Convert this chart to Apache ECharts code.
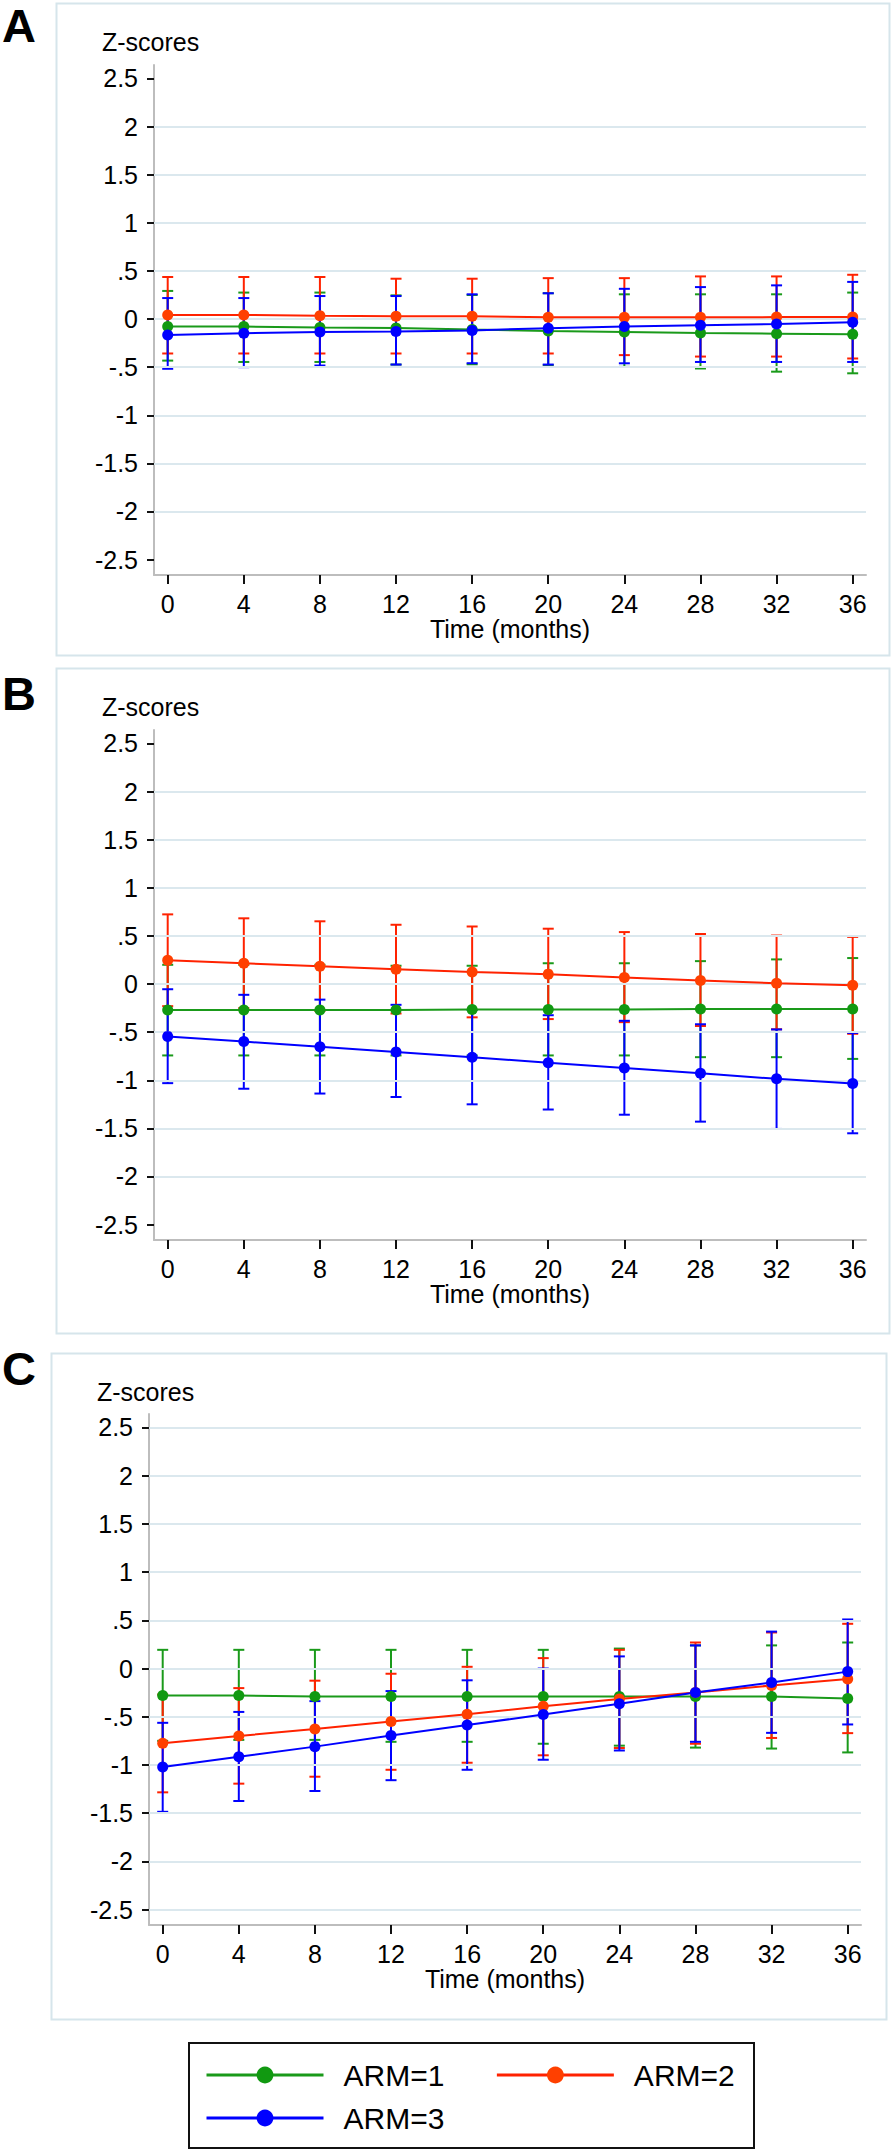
<!DOCTYPE html>
<html>
<head>
<meta charset="utf-8">
<script src="https://cdn.jsdelivr.net/npm/echarts@6/dist/echarts.min.js"></script>
<style>
html,body{margin:0;padding:0;background:#fff;}
#chart{width:894px;height:2153px;}
</style>
</head>
<body>
<div id="chart"></div>
<script>
// ---------------- data ----------------
const times = [0, 4, 8, 12, 16, 20, 24, 28, 32, 36];
const xTickLabels = [0, 4, 8, 12, 16, 20, 24, 28, 32, 36];
const yTickValues = [-2.5, -2, -1.5, -1, -0.5, 0, 0.5, 1, 1.5, 2, 2.5];
const armNames = ['ARM=1', 'ARM=2', 'ARM=3'];
const panelLetters = ['A', 'B', 'C'];
const yTitle = 'Z-scores';
const xTitle = 'Time (months)';

// Panel A
const A_arm1_mean = [-0.077, -0.078, -0.088, -0.092, -0.11, -0.125, -0.135, -0.145, -0.152, -0.159];
const A_arm1_hi   = [0.292, 0.275, 0.275, 0.246, 0.25, 0.268, 0.257, 0.257, 0.257, 0.275];
const A_arm1_lo   = [-0.432, -0.446, -0.446, -0.473, -0.47, -0.48, -0.497, -0.514, -0.547, -0.564];
const A_arm2_mean = [0.042, 0.042, 0.035, 0.03, 0.03, 0.018, 0.018, 0.018, 0.02, 0.02];
const A_arm2_hi   = [0.437, 0.437, 0.437, 0.419, 0.419, 0.425, 0.425, 0.443, 0.443, 0.46];
const A_arm2_lo   = [-0.358, -0.358, -0.358, -0.358, -0.358, -0.358, -0.375, -0.39, -0.39, -0.41];
const A_arm3_mean = [-0.165, -0.148, -0.134, -0.13, -0.118, -0.095, -0.078, -0.064, -0.051, -0.034];
const A_arm3_hi   = [0.218, 0.218, 0.239, 0.239, 0.257, 0.268, 0.314, 0.332, 0.35, 0.386];
const A_arm3_lo   = [-0.517, -0.5, -0.483, -0.473, -0.459, -0.473, -0.46, -0.446, -0.446, -0.446];

// Panel B
const B_arm1_mean = [-0.27, -0.27, -0.27, -0.27, -0.265, -0.265, -0.265, -0.26, -0.26, -0.26];
const B_arm1_hi   = [0.2, 0.2, 0.2, 0.19, 0.19, 0.216, 0.216, 0.238, 0.256, 0.27];
const B_arm1_lo   = [-0.742, -0.742, -0.742, -0.742, -0.742, -0.742, -0.742, -0.76, -0.76, -0.778];
const B_arm2_mean = [0.247, 0.216, 0.184, 0.153, 0.126, 0.103, 0.067, 0.036, 0.009, -0.013];
const B_arm2_hi   = [0.724, 0.683, 0.652, 0.616, 0.598, 0.575, 0.54, 0.52, 0.504, 0.49];
const B_arm2_lo   = [-0.23, -0.25, -0.28, -0.306, -0.346, -0.364, -0.396, -0.436, -0.47, -0.517];
const B_arm3_mean = [-0.544, -0.598, -0.652, -0.706, -0.76, -0.818, -0.872, -0.926, -0.985, -1.034];
const B_arm3_hi   = [-0.054, -0.112, -0.162, -0.216, -0.27, -0.324, -0.382, -0.418, -0.472, -0.508];
const B_arm3_lo   = [-1.03, -1.088, -1.138, -1.174, -1.25, -1.304, -1.358, -1.43, -1.506, -1.551];

// Panel C
const C_arm1_mean = [-0.28, -0.28, -0.29, -0.29, -0.29, -0.29, -0.29, -0.29, -0.29, -0.31];
const C_arm1_hi   = [0.194, 0.194, 0.194, 0.194, 0.194, 0.194, 0.207, 0.24, 0.24, 0.27];
const C_arm1_lo   = [-0.75, -0.74, -0.74, -0.76, -0.76, -0.78, -0.8, -0.82, -0.83, -0.87];
const C_arm2_mean = [-0.775, -0.70, -0.626, -0.55, -0.473, -0.392, -0.315, -0.248, -0.176, -0.108];
const C_arm2_hi   = [-0.27, -0.203, -0.126, -0.054, 0.018, 0.108, 0.194, 0.27, 0.374, 0.464];
const C_arm2_lo   = [-1.284, -1.194, -1.122, -1.05, -0.977, -0.90, -0.824, -0.78, -0.72, -0.67];
const C_arm3_mean = [-1.022, -0.914, -0.81, -0.694, -0.586, -0.477, -0.365, -0.248, -0.144, -0.032];
const C_arm3_hi   = [-0.563, -0.45, -0.338, -0.234, -0.122, 0, 0.126, 0.24, 0.383, 0.509];
const C_arm3_lo   = [-1.486, -1.374, -1.27, -1.158, -1.05, -0.946, -0.85, -0.76, -0.667, -0.58];

// gridline values per panel
const A_gridValues = [-2, -1.5, -1, -0.5, 0, 0.5, 1, 1.5, 2];
const B_gridValues = [-2, -1.5, -1, -0.5, 0, 0.5, 1, 1.5, 2];
const C_gridValues = [-2.5, -2, -1.5, -1, -0.5, 0, 0.5, 1, 1.5, 2, 2.5];

// ---------------- assembly ----------------
const panels = [
  { mean: [A_arm1_mean, A_arm2_mean, A_arm3_mean], hi: [A_arm1_hi, A_arm2_hi, A_arm3_hi], lo: [A_arm1_lo, A_arm2_lo, A_arm3_lo], grid: A_gridValues },
  { mean: [B_arm1_mean, B_arm2_mean, B_arm3_mean], hi: [B_arm1_hi, B_arm2_hi, B_arm3_hi], lo: [B_arm1_lo, B_arm2_lo, B_arm3_lo], grid: B_gridValues },
  { mean: [C_arm1_mean, C_arm2_mean, C_arm3_mean], hi: [C_arm1_hi, C_arm2_hi, C_arm3_hi], lo: [C_arm1_lo, C_arm2_lo, C_arm3_lo], grid: C_gridValues }
];

const FONT = "'Liberation Sans', Arial, Helvetica, sans-serif";
const lineColors = ['#1a9a1a', '#ff2200', '#0000ff'];
const markerColors = ['#119911', '#ff4000', '#0000ff'];
const gridColor = '#dbe8ee';
const frameColor = '#d6e5eb';

// layout (pixels)
const gridLayout = [
  { left: 154, top: 65, width: 712, height: 510 },
  { left: 154, top: 730, width: 712, height: 510 },
  { left: 149, top: 1414, width: 712, height: 511 }
];
const frames = [
  { x: 56, y: 3, w: 833, h: 652 },
  { x: 56, y: 668, w: 833, h: 665 },
  { x: 51, y: 1353, w: 835, h: 666 }
];
const letterPos = [{ left: 2, top: 2 }, { left: 2, top: 670 }, { left: 2, top: 1345 }];
const ztitlePos = [{ left: 102, top: 29 }, { left: 102, top: 694 }, { left: 97, top: 1379 }];

function yFmt(v) {
  if (Math.abs(v) < 1e-9) return '0';
  const s = String(+v.toFixed(2));
  return s.replace(/^(-?)0\./, '$1.');
}

const grids = [], xAxes = [], yAxes = [], titles = [], series = [], graphics = [];

panels.forEach((p, pi) => {
  grids.push(Object.assign({ containLabel: false }, gridLayout[pi]));
  xAxes.push({
    type: 'value', gridIndex: pi, min: -0.72, max: 36.7,
    name: xTitle, nameLocation: 'middle', nameGap: 41,
    nameTextStyle: { fontSize: 25, color: '#000', fontFamily: FONT },
    axisLine: { show: true, onZero: false, lineStyle: { color: '#bdbdbd', width: 2 } },
    axisTick: { show: true, length: 9, customValues: xTickLabels, lineStyle: { color: '#111', width: 2 } },
    axisLabel: { customValues: xTickLabels, fontSize: 25, color: '#000', fontFamily: FONT, margin: 16 },
    splitLine: { show: false }
  });
  yAxes.push({
    type: 'value', gridIndex: pi, min: -2.66, max: 2.64,
    axisLine: { show: true, onZero: false, lineStyle: { color: '#bdbdbd', width: 2 } },
    axisTick: { show: true, length: 7, customValues: yTickValues, lineStyle: { color: '#111', width: 2 } },
    axisLabel: { customValues: yTickValues, fontSize: 25, color: '#000', fontFamily: FONT, margin: 16, formatter: yFmt },
    splitLine: { show: false }
  });
  titles.push({ text: panelLetters[pi], left: letterPos[pi].left, top: letterPos[pi].top, padding: 0,
    textStyle: { fontSize: 47, fontWeight: 'bold', color: '#000', fontFamily: FONT } });
  titles.push({ text: yTitle, left: ztitlePos[pi].left, top: ztitlePos[pi].top, padding: 0,
    textStyle: { fontSize: 25, fontWeight: 'normal', color: '#000', fontFamily: FONT } });
  graphics.push({ type: 'rect', silent: true, z: -10,
    shape: { x: frames[pi].x + 0.5, y: frames[pi].y + 0.5, width: frames[pi].w, height: frames[pi].h },
    style: { fill: 'none', stroke: frameColor, lineWidth: 2 } });
});

// line series first (legend representative)
panels.forEach((p, pi) => {
  for (let k = 0; k < 3; k++) {
    series.push({
      type: 'line', name: armNames[k], xAxisIndex: pi, yAxisIndex: pi, z: 5,
      data: times.map((t, i) => [t, p.mean[k][i]]),
      symbol: 'circle', symbolSize: 11, showSymbol: true,
      lineStyle: { width: 2, color: lineColors[k] },
      itemStyle: { color: markerColors[k] },
      emphasis: { disabled: true }, animation: false
    });
  }
});
// error bars
panels.forEach((p, pi) => {
  for (let k = 0; k < 3; k++) {
    const col = lineColors[k];
    series.push({
      type: 'custom', name: armNames[k], xAxisIndex: pi, yAxisIndex: pi, z: 4,
      data: times.map((t, i) => [t, p.lo[k][i], p.hi[k][i]]),
      encode: { x: 0, y: [1, 2] },
      renderItem: function (params, api) {
        const x = api.value(0);
        const pLo = api.coord([x, api.value(1)]);
        const pHi = api.coord([x, api.value(2)]);
        const w = 5.5;
        const st = { stroke: col, lineWidth: 2 };
        return { type: 'group', children: [
          { type: 'line', shape: { x1: pLo[0], y1: pLo[1], x2: pHi[0], y2: pHi[1] }, style: st },
          { type: 'line', shape: { x1: pLo[0] - w, y1: pLo[1], x2: pLo[0] + w, y2: pLo[1] }, style: st },
          { type: 'line', shape: { x1: pHi[0] - w, y1: pHi[1], x2: pHi[0] + w, y2: pHi[1] }, style: st }
        ] };
      },
      emphasis: { disabled: true }, animation: false
    });
  }
});
// gridlines
panels.forEach((p, pi) => {
  series.push({
    type: 'line', name: 'gridlines' + pi, xAxisIndex: pi, yAxisIndex: pi, z: 1, data: [],
    markLine: { silent: true, symbol: 'none', animation: false, label: { show: false },
      lineStyle: { color: gridColor, width: 2, type: 'solid' },
      data: p.grid.map(v => ({ yAxis: v })) }
  });
});

// legend box
graphics.push({ type: 'rect', silent: true,
  shape: { x: 189, y: 2043, width: 565, height: 105 },
  style: { fill: '#fff', stroke: '#111', lineWidth: 2 } });

const legendCommon = {
  orient: 'horizontal', padding: 0, itemWidth: 117, itemHeight: 21, itemGap: 51,
  selectedMode: false, lineStyle: { width: 3 },
  textStyle: { fontSize: 30, color: '#000', fontFamily: FONT, padding: [0, 0, 0, 15] }
};

const chart = echarts.init(document.getElementById('chart'), null, { renderer: 'svg', width: 894, height: 2153 });
chart.setOption({
  backgroundColor: '#fff',
  animation: false,
  textStyle: { fontFamily: FONT },
  title: titles,
  grid: grids,
  xAxis: xAxes,
  yAxis: yAxes,
  legend: [
    Object.assign({}, legendCommon, { data: ['ARM=1', 'ARM=2'], left: 205, top: 2060 }),
    Object.assign({}, legendCommon, { data: ['ARM=3'], left: 205, top: 2103 })
  ],
  graphic: graphics,
  series: series
});
</script>
</body>
</html>
